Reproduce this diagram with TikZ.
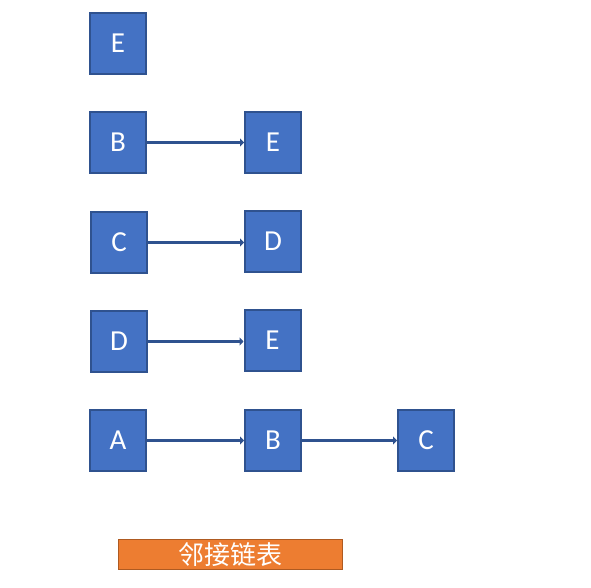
\documentclass[tikz,border=0pt]{standalone}
\usepackage{fontspec}
\setmainfont{Carlito}
\newfontfamily\cjk{Noto Sans CJK SC}
\usetikzlibrary{arrows.meta}
\definecolor{boxfill}{HTML}{4472C4}
\definecolor{boxline}{HTML}{2F528F}
\definecolor{orfill}{HTML}{ED7D31}
\definecolor{orline}{HTML}{AE5A21}
\begin{document}
\begin{tikzpicture}[x=1pt,y=-1pt,
  vbox/.style={draw=boxline,fill=boxfill,line width=2pt,minimum width=56pt,minimum height=61pt,inner sep=0pt,text=white,font=\fontsize{29}{29}\selectfont},
  link/.style={draw=boxline,line width=3.5pt,-{Triangle[length=4pt,width=8pt]}}]
\useasboundingbox (0,0) rectangle (591,588);
\node[vbox] (e0) at (118,43.5) {E};
\node[vbox] (b1) at (118,142.5) {B};
\node[vbox] (e1) at (273,142.5) {E};
\node[vbox] (c2) at (119,242.5) {C};
\node[vbox] (d2) at (273,241.5) {D};
\node[vbox] (d3) at (119,341.5) {D};
\node[vbox] (e3) at (272.5,340.5) {E};
\node[vbox] (a4) at (118,440.5) {A};
\node[vbox] (b4) at (273,440.5) {B};
\node[vbox] (c4) at (426,440.5) {C};
\draw[link] (b1.east) -- (e1.west);
\draw[link] (c2.east) -- (c2.east -| d2.west);
\draw[link] (d3.east) -- (d3.east -| e3.west);
\draw[link] (a4.east) -- (b4.west);
\draw[link] (b4.east) -- (c4.west);
\node[draw=orline,fill=orfill,line width=1.5pt,minimum width=224pt,minimum height=30pt,inner sep=0pt,text=white,font=\cjk\fontsize{26}{26}\selectfont] (lbl) at (230.5,554.5) {邻接链表};
\end{tikzpicture}
\end{document}
